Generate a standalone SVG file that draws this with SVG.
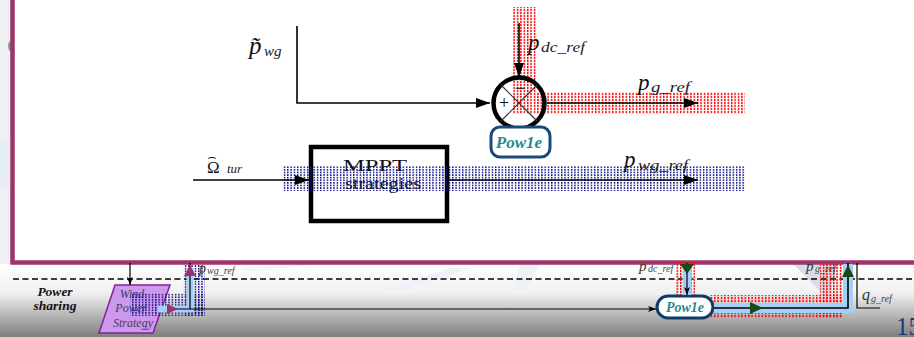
<svg xmlns="http://www.w3.org/2000/svg" width="914" height="337" viewBox="0 0 914 337">
<defs>
<linearGradient id="bg" x1="0" y1="264" x2="0" y2="337" gradientUnits="userSpaceOnUse">
<stop offset="0" stop-color="#ffffff"/>
<stop offset="0.4" stop-color="#f0f0f0"/>
<stop offset="1" stop-color="#7e7e7e"/>
</linearGradient>
<pattern id="reddots" width="3.4" height="3" patternUnits="userSpaceOnUse">
<rect x="0" y="0" width="1.4" height="2.2" fill="#ff0000"/>
</pattern>
<pattern id="bluedots" width="3.3" height="2.6" patternUnits="userSpaceOnUse">
<rect x="0" y="0" width="1.4" height="1.7" fill="#10108a"/>
</pattern>
<marker id="ah" viewBox="0 0 14 10" refX="14" refY="5" markerWidth="14" markerHeight="10" markerUnits="userSpaceOnUse" orient="auto">
<path d="M0,0 L14,5 L0,10 z" fill="#000"/>
</marker>
<marker id="ahs" viewBox="0 0 8 6" refX="8" refY="3" markerWidth="8" markerHeight="6" markerUnits="userSpaceOnUse" orient="auto">
<path d="M0,0 L8,3 L0,6 L2,3 z" fill="#000"/>
</marker>
<style>
.mi{font-family:"Liberation Serif",serif;font-style:italic;fill:#111}
.sub{font-family:"Liberation Serif",serif;font-style:italic;fill:#222}
.rm{font-family:"Liberation Serif",serif;fill:#111}
.ln{fill:none;stroke:#000;stroke-width:1.6}
.lnt{fill:none;stroke:#000;stroke-width:1.2}
.pow{font-family:"Liberation Serif",serif;font-style:italic;font-weight:bold;fill:#1f8a90;text-anchor:middle}
.lb{fill:none;stroke:#a6cff5;stroke-linejoin:miter}
.grn{fill:#174a17}
.mag{fill:#a0306a}
</style>
</defs>

<!-- background -->
<rect x="0" y="0" width="914" height="337" fill="url(#bg)"/>
<rect x="0" y="0" width="14" height="264" fill="#eef0f3"/>
<polygon points="0,140 12,135 12,185 0,190" fill="#e6edf5"/>
<ellipse cx="12" cy="46" rx="4" ry="6" fill="#6aa88a"/>
<polygon points="793,264 838,264 828,299" fill="#d7dde6"/>
<polygon points="520,264 540,264 526,292 512,292" fill="#eef2f8"/>
<polygon points="385,290 450,268 470,268 400,292" fill="#eef2f8"/>
<polygon points="240,268 300,264 320,264 250,272" fill="#f2f5f9"/>

<!-- main panel -->
<rect id="panel" x="12.5" y="-20" width="1000" height="282.5" fill="#ffffff" stroke="#9e3467" stroke-width="4.5"/>

<!-- dashed separator -->
<line x1="13" y1="279" x2="914" y2="279" stroke="#000" stroke-width="1.4" stroke-dasharray="6 3.5"/>

<!-- dotted highlight bands -->
<g id="bands">
<rect x="513" y="7" width="24" height="107" fill="url(#reddots)"/>
<rect x="537" y="92" width="208" height="22" fill="url(#reddots)"/>
<rect x="676" y="262" width="19" height="34" fill="url(#reddots)"/>
<rect x="710" y="295" width="133" height="23" fill="url(#reddots)"/>
<rect x="820" y="263" width="23" height="55" fill="url(#reddots)"/>
</g>

<!-- MPPT block -->
<g id="mppt">
<rect x="311" y="147" width="136" height="74" fill="#ffffff" stroke="#000" stroke-width="4.5"/>
<text class="rm" x="375" y="171" font-size="17" text-anchor="middle" textLength="64" lengthAdjust="spacingAndGlyphs">MPPT</text>
<text class="rm" x="383" y="189" font-size="17" text-anchor="middle" textLength="76" lengthAdjust="spacingAndGlyphs">strategies</text>
</g>

<g id="blueband">
<rect x="283" y="166" width="462" height="25" fill="url(#bluedots)"/>
</g>

<!-- summing junction -->
<g id="sum">
<circle cx="519" cy="103" r="25.5" fill="none" stroke="#000" stroke-width="4.5"/>
<line x1="501" y1="85" x2="537" y2="121" stroke="#333" stroke-width="1.2"/>
<line x1="537" y1="85" x2="501" y2="121" stroke="#333" stroke-width="1.2"/>
<text class="rm" x="504" y="109" font-size="18" text-anchor="middle">+</text>
<text class="rm" x="520" y="94" font-size="18" text-anchor="middle">−</text>
</g>

<!-- Pow1e top -->
<g id="pow1e-top">
<rect x="491" y="127" width="59" height="30" rx="9" fill="#ffffff" stroke="#1a4a7a" stroke-width="3"/>
<text class="pow" x="519" y="148" font-size="17">Pow1e</text>
</g>

<!-- Wind power strategy -->
<g id="wind-strategy">
<polygon points="115,285 170,285 153,333 99,333" fill="#cc99ee" stroke="#8a1f9a" stroke-width="1.5"/>
<text class="mi" x="132" y="298" font-size="12" text-anchor="middle" style="fill:#4a3a5a">Wind</text>
<text class="mi" x="131" y="312" font-size="12" text-anchor="middle" style="fill:#4a3a5a">Power</text>
<text class="mi" x="133" y="327" font-size="12" text-anchor="middle" style="fill:#4a3a5a">Strategy</text>
</g>

<g id="blueband-bottom">
<rect x="130" y="293" width="75" height="23" fill="url(#bluedots)"/>
<rect x="183" y="265" width="22" height="51" fill="url(#bluedots)"/>
</g>

<!-- Pow1e bottom -->
<g id="pow1e-bottom">
<rect x="657" y="296" width="56" height="22" rx="11" fill="#ffffff" stroke="#0e3a66" stroke-width="3"/>
<text class="pow" x="685" y="312" font-size="14">Pow1e</text>
</g>

<!-- connectors -->
<g id="connectors">
<path class="ln" d="M297,26 V103 H490" marker-end="url(#ah)"/>
<path class="ln" d="M519,23 V77" marker-end="url(#ah)"/>
<path class="ln" d="M547,103 H698" marker-end="url(#ah)"/>
<path class="ln" d="M193,180 H309" marker-end="url(#ah)"/>
<path class="ln" d="M449,180 H698" marker-end="url(#ah)"/>

<path class="lnt" d="M130,263 V285" marker-end="url(#ahs)"/>
<polyline class="lb" points="158,309 190,309 190,268" stroke-width="7"/>
<path class="lnt" d="M167,309 H190 V263"/>
<polygon class="mag" points="167,304 178,309 167,314"/>
<polygon class="mag" points="184,276 190,265 196,276"/>
<path class="lnt" d="M190,309 H656" marker-end="url(#ahs)"/>

<line class="lb" x1="687" y1="264" x2="687" y2="295" stroke-width="9"/>
<path class="lnt" d="M687,263 V295" marker-end="url(#ahs)"/>
<polygon class="grn" points="680,264 694,264 687,274"/>

<polyline class="lb" points="714,308 848,308 848,264" stroke-width="10"/>
<path class="ln" d="M714,308 H848 V263"/>
<polygon class="grn" points="750,302 763,308 750,314"/>
<polygon class="grn" points="842,277 848,265 854,277"/>

<path class="lnt" d="M857,263 V308 H880"/>
</g>

<!-- labels -->
<g id="labels">
<text class="mi" x="249" y="54" font-size="25">p̃</text>
<text class="sub" x="264" y="56" font-size="15">wg</text>

<text class="rm" x="207" y="173" font-size="17">Ω<tspan dx="-12.6" dy="-11" font-size="15" font-family="DejaVu Sans, sans-serif">⌢</tspan></text>
<text class="sub" x="227" y="173" font-size="13">tur</text>

<text class="mi" x="528" y="50" font-size="23">p</text>
<text class="sub" x="541" y="52" font-size="14" textLength="44" lengthAdjust="spacingAndGlyphs">dc_ref</text>

<text class="mi" x="638" y="90" font-size="23">p</text>
<text class="sub" x="651" y="92" font-size="14" textLength="39" lengthAdjust="spacingAndGlyphs">g_ref</text>

<text class="mi" x="624" y="167" font-size="23">p</text>
<text class="sub" x="638" y="170" font-size="14" textLength="50" lengthAdjust="spacingAndGlyphs">wg_ref</text>

<text class="mi" x="55" y="296" font-size="13.5" font-weight="bold" text-anchor="middle">Power</text>
<text class="mi" x="55" y="310" font-size="13.5" font-weight="bold" text-anchor="middle">sharing</text>

<text class="sub" x="199" y="273" font-size="14" style="fill:#333">p</text>
<text class="sub" x="207" y="274" font-size="10" style="fill:#444">wg_ref</text>

<text class="sub" x="639" y="271" font-size="15" style="fill:#333">p</text>
<text class="sub" x="648" y="272" font-size="10" style="fill:#444">dc_ref</text>

<text class="sub" x="806" y="271" font-size="15" style="fill:#333">p</text>
<text class="sub" x="815" y="272" font-size="10" style="fill:#444">g_ref</text>

<text class="sub" x="862" y="300" font-size="16" style="fill:#333">q</text>
<text class="sub" x="871" y="302" font-size="10" style="fill:#444">g_ref</text>

<text class="rm" x="896" y="335" font-size="25" style="fill:#1f3b6e">15</text>
</g>
</svg>
